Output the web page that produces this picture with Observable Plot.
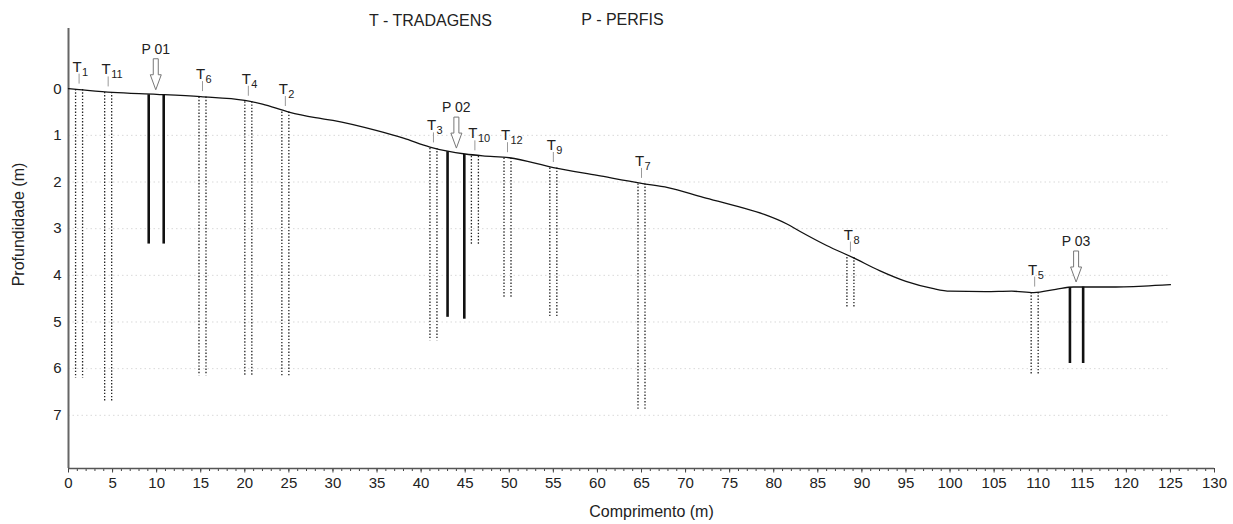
<!DOCTYPE html>
<html>
<head>
<meta charset="utf-8">
<script src="https://cdn.jsdelivr.net/npm/d3@7"></script>
<script src="https://cdn.jsdelivr.net/npm/@observablehq/plot@0.6"></script>
<style>
  html, body { margin: 0; padding: 0; background: #fff; }
  #chart svg { display: block; }
</style>
</head>
<body>
<div id="chart"></div>
<script>
// Terrain surface along the section: distance (m) and depth below the start point (m)
const terrainX =     [0, 1.2, 5, 10, 15, 20, 22, 25, 28, 30, 35, 38, 41, 43, 45, 47, 50, 55, 60, 65, 68, 72, 76, 79, 81.5, 83, 86, 89, 92, 95, 98, 100, 104, 107, 109.5, 112, 114, 118, 122, 125];
const terrainDepth = [0, 0.02, 0.08, 0.12, 0.17, 0.25, 0.33, 0.5, 0.62, 0.68, 0.9, 1.06, 1.25, 1.34, 1.4, 1.44, 1.48, 1.69, 1.86, 2.03, 2.12, 2.33, 2.53, 2.7, 2.9, 3.06, 3.36, 3.62, 3.9, 4.13, 4.28, 4.34, 4.35, 4.34, 4.37, 4.3, 4.25, 4.25, 4.23, 4.2];

// Tradagens (auger holes): label number, position, surface depth, final depth
const tradNames  = ["1", "11", "6", "4", "2", "3", "10", "12", "9", "7", "8", "5"];
const tradX      = [1.2, 4.5, 15.2, 20.4, 24.6, 41.4, 46.1, 49.8, 55.0, 65.0, 88.7, 109.6];
const tradTop    = [0.02, 0.08, 0.18, 0.28, 0.5, 1.28, 1.45, 1.49, 1.7, 2.04, 3.62, 4.37];
const tradBottom = [6.2, 6.7, 6.15, 6.15, 6.15, 5.4, 3.36, 4.47, 4.9, 6.9, 4.71, 6.14];

// Perfis (soil pits): label, position and surface depth
const perfilNames = ["P 01", "P 02", "P 03"];
const perfilX     = [9.9, 44.0, 114.3];
const perfilTop   = [0.13, 1.38, 4.25];

// Pit walls: position, top and bottom depth
const wallX      = [9.1, 10.8, 43.0, 44.9, 113.6, 115.1];
const wallTop    = [0.13, 0.13, 1.35, 1.41, 4.26, 4.25];
const wallBottom = [3.33, 3.33, 4.9, 4.94, 5.89, 5.89];

// Axes
const xDomain = [0, 130];
const yDomain = [-1.29, 8.14];
const xMajorTicks = d3.range(0, 131, 5);
const xMinorTicks = d3.range(0, 131, 1);
const yTicks = [0, 1, 2, 3, 4, 5, 6, 7];
const gridDepths = [1, 2, 3, 4, 5, 6, 7];
const gridEnd = 125;

const terrain = terrainX.map((x, i) => ({x, depth: terrainDepth[i]}));
const trads = tradNames.map((name, i) => ({name, x: tradX[i], top: tradTop[i], bottom: tradBottom[i]}));
const perfis = perfilNames.map((name, i) => ({name, x: perfilX[i], top: perfilTop[i]}));
const walls = wallX.map((x, i) => ({x, top: wallTop[i], bottom: wallBottom[i]}));

// Hollow downward arrow, tip at the origin
const arrowDown = {
  draw(ctx) {
    ctx.moveTo(-2.5, -31);
    ctx.lineTo(2.5, -31);
    ctx.lineTo(2.5, -15);
    ctx.lineTo(5.5, -15);
    ctx.lineTo(0, 0);
    ctx.lineTo(-5.5, -15);
    ctx.lineTo(-2.5, -15);
    ctx.closePath();
  }
};
// Short leader line between a label and the ground
const leader = {
  draw(ctx) {
    ctx.moveTo(0, -16);
    ctx.lineTo(0, -6);
  }
};

const font = "'Liberation Sans', Arial, Helvetica, sans-serif";

const chart = Plot.plot({
  width: 1233,
  height: 524,
  marginLeft: 68,
  marginRight: 19,
  marginTop: 28,
  marginBottom: 56,
  style: {fontFamily: font, fontSize: "15px", color: "#222", background: "#fff"},
  x: {domain: xDomain, axis: null},
  y: {domain: yDomain, reverse: true, axis: null},
  marks: [
    // dotted depth grid
    Plot.ruleY(gridDepths, {x1: 0, x2: gridEnd, stroke: "#d9d9d9", strokeWidth: 1, strokeDasharray: "1.5,3"}),
    // axes
    Plot.axisY({ticks: yTicks, tickSize: 0, tickPadding: 7, fontSize: 15, label: null, tickFormat: d3.format("d")}),
    Plot.axisX({ticks: xMinorTicks, tickSize: 3, tickFormat: () => "", label: null, stroke: "#444"}),
    Plot.axisX({ticks: xMajorTicks, tickSize: 4.5, tickPadding: 4, fontSize: 15, label: null, stroke: "#444", tickFormat: d3.format("d")}),
    Plot.ruleX([xDomain[0]], {stroke: "#666", strokeWidth: 2}),
    Plot.ruleY([yDomain[1]], {stroke: "#555", strokeWidth: 1.5}),
    // tradagens: paired dotted lines
    Plot.ruleX(trads, {x: "x", y1: "top", y2: "bottom", dx: -3.5, stroke: "#222", strokeWidth: 1.3, strokeDasharray: "1.4,1.8"}),
    Plot.ruleX(trads, {x: "x", y1: "top", y2: "bottom", dx: 3.5, stroke: "#222", strokeWidth: 1.3, strokeDasharray: "1.4,1.8"}),
    // perfis: pit walls
    Plot.ruleX(walls, {x: "x", y1: "top", y2: "bottom", stroke: "#111", strokeWidth: 2.6}),
    // ground surface
    Plot.line(terrain, {x: "x", y: "depth", curve: "monotone-x", stroke: "#111", strokeWidth: 1.3}),
    // tradagem labels
    Plot.dot(trads, {x: "x", y: "top", symbol: leader, r: 4, fill: "none", stroke: "#999", strokeWidth: 1}),
    Plot.text(trads, {x: "x", y: "top", text: () => "T", dx: -2, dy: -18, lineAnchor: "bottom", fontSize: 15, fill: "#222"}),
    Plot.text(trads, {x: "x", y: "top", text: "name", dx: 3, dy: -14, textAnchor: "start", lineAnchor: "bottom", fontSize: 11, fill: "#222"}),
    // perfil arrows and labels
    Plot.dot(perfis, {x: "x", y: "top", symbol: arrowDown, r: 5, dy: -5, fill: "#fff", stroke: "#777", strokeWidth: 1}),
    Plot.text(perfis, {x: "x", y: "top", text: "name", dy: -41, lineAnchor: "bottom", fontSize: 14, fill: "#222"}),
    // titles
    Plot.text(["T - TRADAGENS"], {frameAnchor: "top-left", dx: 362, dy: -8, lineAnchor: "middle", textAnchor: "middle", fontSize: 16, fill: "#222"}),
    Plot.text(["P - PERFIS"], {frameAnchor: "top-left", dx: 554, dy: -9, lineAnchor: "middle", textAnchor: "middle", fontSize: 16, fill: "#222"}),
    // axis titles
    Plot.text(["Profundidade (m)"], {frameAnchor: "left", dx: -50, dy: -24, rotate: -90, lineAnchor: "middle", textAnchor: "middle", fontSize: 16, fill: "#222"}),
    Plot.text(["Comprimento (m)"], {frameAnchor: "bottom", dx: 10, dy: 43, lineAnchor: "middle", textAnchor: "middle", fontSize: 16, fill: "#222"})
  ]
});

document.getElementById("chart").appendChild(chart);
</script>
</body>
</html>
